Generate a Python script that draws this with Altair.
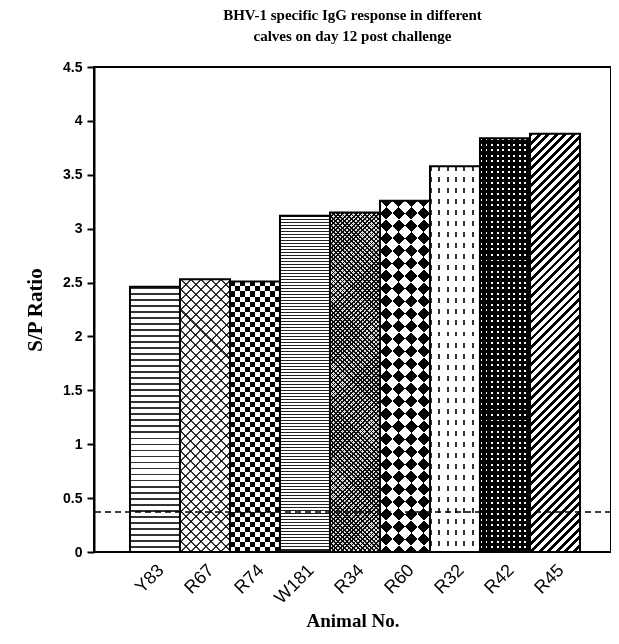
import math
import altair as alt
import pandas as pd

# ---- data ----
animals = ["Y83", "R67", "R74", "W181", "R34", "R60", "R32", "R42", "R45"]
sp_ratio = [2.46, 2.53, 2.51, 3.12, 3.15, 3.26, 3.58, 3.84, 3.88]
cutoff = [0.37]
y_ticks = [0, 0.5, 1, 1.5, 2, 2.5, 3, 3.5, 4, 4.5]

df = pd.DataFrame({"animal": animals, "value": sp_ratio})
cut_df = pd.DataFrame({"cutoff": cutoff})

# ---- layout ----
W, H = 517, 485
YMAX = 4.5
BAR_W = 50.0  # band step 50, paddingInner 0


def bar_h(v):
    return v / YMAX * H


def stops(n, duty, on, off):
    out = []
    n = max(1, int(round(n)))
    for k in range(n):
        a = k / n
        b = (k + duty) / n
        c = (k + 1) / n
        out += [
            {"offset": round(a, 5), "color": on},
            {"offset": round(b, 5), "color": on},
            {"offset": round(b, 5), "color": off},
            {"offset": round(min(c, 1.0), 5), "color": off},
        ]
    return out


def horiz(h, period, duty, on, off):
    return {"gradient": "linear", "x1": 0, "y1": 0, "x2": 0, "y2": 1,
            "stops": stops(h / period, duty, on, off)}


def vert(period, duty, on, off):
    return {"gradient": "linear", "x1": 0, "y1": 0, "x2": 1, "y2": 0,
            "stops": stops(BAR_W / period, duty, on, off)}


def diag(h, spacing, duty, on, off, slash=True):
    w = BAR_W
    c = (w + h) / (w * w + h * h)
    if slash:
        g = {"x1": 0, "y1": 0, "x2": w * c, "y2": h * c}
    else:
        g = {"x1": 0, "y1": 1, "x2": w * c, "y2": 1 - h * c}
    g["gradient"] = "linear"
    g["stops"] = stops((w + h) / spacing, duty, on, off)
    return g


def pattern_layers(name, v):
    h = bar_h(v)
    if name == "Y83":
        return [(horiz(h, 6, 0.3, "#333333", "#ffffff"), None)]
    if name == "R67":
        return [(diag(h, 10, 0.2, "#333333", "#ffffff", True), None),
                (diag(h, 10, 0.2, "#333333", "#ffffff", False), "multiply")]
    if name == "R74":
        return [(horiz(h, 10, 0.5, "#000000", "#ffffff"), None),
                (vert(10, 0.5, "#000000", "#ffffff"), "difference")]
    if name == "W181":
        return [(horiz(h, 3, 0.5, "#222222", "#ffffff"), None)]
    if name == "R34":
        return [(diag(h, 4.5, 0.4, "#111111", "#eeeeee", True), None),
                (diag(h, 4.5, 0.4, "#111111", "#eeeeee", False), "multiply")]
    if name == "R60":
        return [(diag(h, 25, 0.5, "#000000", "#ffffff", True), None),
                (diag(h, 25, 0.5, "#000000", "#ffffff", False), "difference")]
    if name == "R32":
        return [(vert(8, 0.25, "#333333", "#ffffff"), None),
                (horiz(h, 11, 0.45, "#333333", "#ffffff"), "lighten")]
    if name == "R42":
        return [(vert(5.5, 0.35, "#ffffff", "#000000"), None),
                (horiz(h, 5.5, 0.35, "#ffffff", "#000000"), "darken")]
    if name == "R45":
        return [(diag(h, 8.5, 0.45, "#000000", "#ffffff", True), None)]
    return []


x_scale = alt.Scale(paddingInner=0, paddingOuter=0.67, align=0.537)
y_scale = alt.Scale(domain=[0, YMAX], nice=False, zero=True)

x_axis = alt.Axis(title="Animal No.", labelAngle=-45, labelFontSize=18,
                  labelFont="Liberation Sans", labelColor="black",
                  labelPadding=9, ticks=False, domain=False,
                  titleFont="Liberation Serif", titleFontSize=19,
                  titleFontWeight="bold", titleColor="black",
                  titlePadding=5)
y_axis = alt.Axis(title="S/P Ratio", values=y_ticks, format="~g",
                  grid=False, tickSize=7, tickWidth=2, tickColor="black",
                  domainColor="black", domainWidth=2,
                  labelFont="Liberation Sans", labelFontSize=14,
                  labelFontWeight="bold", labelColor="black",
                  labelPadding=5,
                  titleFont="Liberation Serif", titleFontSize=21,
                  titleFontWeight="bold", titleColor="black",
                  titlePadding=17)

base = alt.Chart(df)

layers = []
for name, v in zip(animals, sp_ratio):
    for fill, blend in pattern_layers(name, v):
        kw = {"fill": fill, "strokeWidth": 0}
        if blend:
            kw["blend"] = blend
        layers.append(
            base.transform_filter(alt.datum.animal == name)
            .mark_bar(**kw)
            .encode(x=alt.X("animal:N", sort=animals, scale=x_scale, axis=x_axis),
                    y=alt.Y("value:Q", scale=y_scale, axis=y_axis))
        )

outline = base.mark_bar(fill="transparent", stroke="black", strokeWidth=2).encode(
    x=alt.X("animal:N", sort=animals, scale=x_scale, axis=x_axis),
    y=alt.Y("value:Q", scale=y_scale, axis=y_axis))

cut_rule = alt.Chart(cut_df).mark_rule(
    color="black", strokeWidth=1.5, strokeDash=[6, 4]
).encode(y=alt.Y("cutoff:Q", scale=y_scale, axis=y_axis))

chart = alt.layer(*layers, outline, cut_rule).properties(
    width=W, height=H,
    title=alt.TitleParams(
        text=["BHV-1 specific IgG response in different",
              "calves on day 12 post challenge"],
        font="Liberation Serif", fontSize=15, fontWeight="bold",
        color="black", anchor="middle", offset=16, lineHeight=21),
    padding={"left": 86, "top": 59, "right": 0, "bottom": 82},
    autosize=alt.AutoSizeParams(type="none"),
).configure_view(stroke="black", strokeWidth=2)

chart.save("out.html", embed_options={"renderer": "svg", "actions": False})
